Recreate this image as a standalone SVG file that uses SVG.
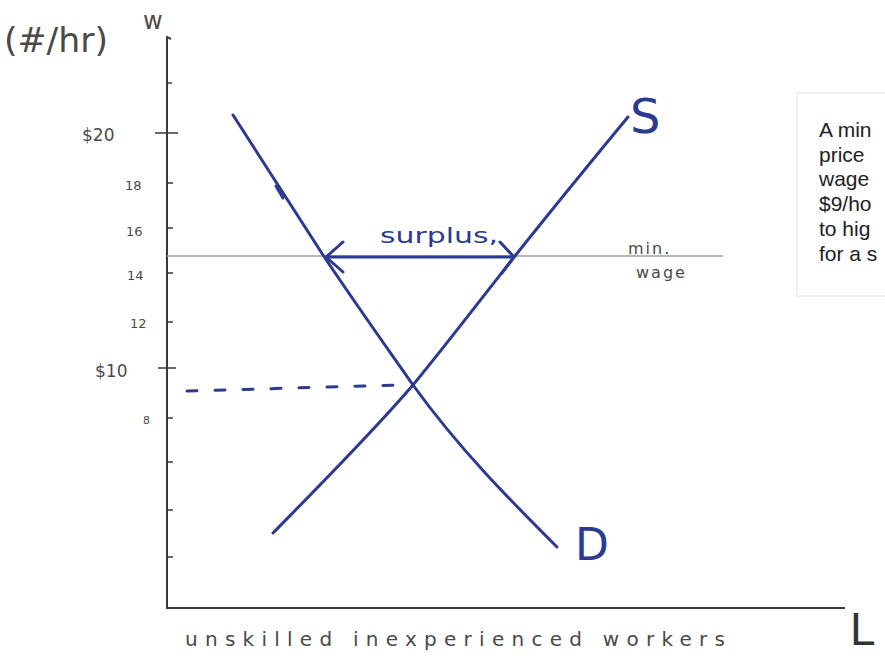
<svg xmlns="http://www.w3.org/2000/svg" width="885" height="658" viewBox="0 0 885 658">
<style>
.ink{fill:none;stroke:#2c3a8f;stroke-width:3;stroke-linecap:round;stroke-linejoin:round}
.axis{fill:none;stroke:#3a3a3a;stroke-width:2}
.tick{fill:none;stroke:#3a3a3a;stroke-width:1.6}
.hand{font-family:"DejaVu Sans","Liberation Sans",sans-serif;fill:#4a4a4a}
.handb{font-family:"DejaVu Sans","Liberation Sans",sans-serif;fill:#2c3a8f}
.note{font-family:"Liberation Sans","Open Sans",sans-serif;font-size:21px;fill:#222}
</style>
<rect width="885" height="658" fill="#ffffff"/>

<g id="axes">
  <path class="axis" d="M171,39 L167,37 L167,608 L845,608"/>
  <path class="tick" d="M167,83h5 M155,133h23 M167,183h6 M167,228h6 M167,273h6 M167,322h6 M158,368h18 M167,418h6 M167,462h6 M167,510h6 M167,557h6"/>
  <text class="hand" x="4" y="52" font-size="34" textLength="104" lengthAdjust="spacingAndGlyphs">(#/hr)</text>
  <text class="hand" x="143" y="29" font-size="24">w</text>
  <text class="hand" x="82" y="141" font-size="17">$20</text>
  <text class="hand" x="125" y="190" font-size="13">18</text>
  <text class="hand" x="126" y="236" font-size="13">16</text>
  <text class="hand" x="127" y="280" font-size="13">14</text>
  <text class="hand" x="130" y="328" font-size="13">12</text>
  <text class="hand" x="95" y="377" font-size="17">$10</text>
  <text class="hand" x="143" y="424" font-size="11">8</text>
  <text class="hand" x="185" y="646" font-size="20" textLength="540" lengthAdjust="spacing">unskilled inexperienced workers</text>
  <text x="850" y="645" font-size="46" font-family="Liberation Sans, sans-serif" fill="#333">L</text>
</g>

<g id="min-wage">
  <line x1="167" y1="256" x2="723" y2="256" stroke="#a0a0a0" stroke-width="1.5"/>
  <text class="hand" x="628" y="254" font-size="16" fill="#777" letter-spacing="2">min.</text>
  <text class="hand" x="636" y="278" font-size="16" fill="#777" letter-spacing="2">wage</text>
</g>

<g id="demand">
  <path class="ink" d="M233,115 C270,172 300,220 323,255 C355,303 385,345 413,385 C460,450 510,500 557,547"/>
  <path class="ink" stroke-width="4" d="M276,186 L283,198"/>
  <text class="handb" x="575" y="560" font-size="44">D</text>
</g>

<g id="supply">
  <path class="ink" d="M273,533 C320,485 370,435 413,385 C450,340 480,300 515,256 C550,212 590,163 628,117"/>
  <text class="handb" x="630" y="133" font-size="48">S</text>
</g>

<g id="connectors">
  <line class="ink" stroke-width="4.5" x1="326" y1="257" x2="513" y2="257"/>
  <polyline class="ink" points="343,242 326,257 343,272"/>
  <polyline class="ink" points="500,242 514,257 502,273"/>
  <path class="ink" stroke-dasharray="10 18" d="M187,391 L400,385"/>
  <text class="handb" x="380" y="243" font-size="22" textLength="118" lengthAdjust="spacingAndGlyphs">surplus,</text>
</g>

<g id="note">
  <rect x="797" y="93" width="110" height="203" fill="#ffffff" stroke="#ececec" stroke-width="1.5"/>
  <text class="note" x="819" y="137">A min</text>
  <text class="note" x="819" y="162">price</text>
  <text class="note" x="819" y="186">wage</text>
  <text class="note" x="819" y="211">$9/ho</text>
  <text class="note" x="819" y="236">to hig</text>
  <text class="note" x="819" y="261">for a s</text>
</g>
</svg>
